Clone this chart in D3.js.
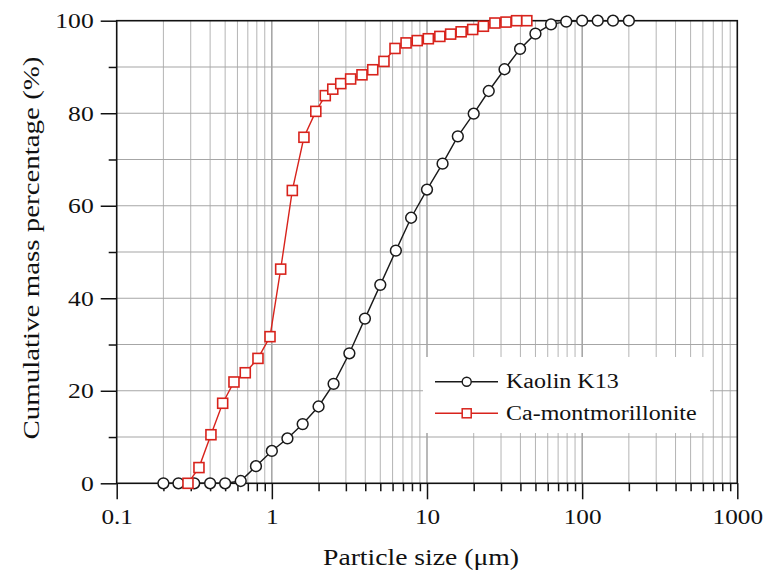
<!DOCTYPE html>
<html>
<head>
<meta charset="utf-8">
<script src="https://cdn.jsdelivr.net/npm/d3@7"></script>
<style>
  html, body { margin: 0; padding: 0; background: #fff; }
  svg { display: block; }
  text { font-family: "Liberation Serif", "Times New Roman", serif; fill: #111; }
</style>
</head>
<body>
<svg id="chart" width="768" height="572"></svg>
<script>
// ---- data ----
const kaolinSize = [0.2, 0.25, 0.316, 0.4, 0.5, 0.63, 0.79, 1.0, 1.26, 1.58, 2.0, 2.5, 3.16, 3.98, 5.0, 6.3, 7.9, 10, 12.6, 15.8, 20, 25, 31.6, 39.8, 50, 63, 79, 100, 126, 158, 200];
const kaolinPct  = [0, 0, 0, 0, 0, 0.5, 3.7, 7.0, 9.7, 12.8, 16.6, 21.5, 28.1, 35.6, 42.9, 50.3, 57.4, 63.5, 69.1, 75.0, 79.9, 84.8, 89.5, 93.9, 97.2, 99.2, 99.8, 100, 100, 100, 100];
const montSize = [0.288, 0.339, 0.405, 0.482, 0.570, 0.674, 0.814, 0.973, 1.14, 1.355, 1.61, 1.92, 2.21, 2.47, 2.78, 3.22, 3.81, 4.47, 5.28, 6.22, 7.33, 8.65, 10.2, 12.1, 14.2, 16.6, 19.7, 23.1, 27.4, 32.3, 37.8, 44.0];
const montPct  = [0, 3.4, 10.5, 17.3, 21.9, 23.9, 27.0, 31.7, 46.3, 63.3, 74.8, 80.4, 83.8, 85.2, 86.4, 87.4, 88.3, 89.4, 91.2, 94.0, 95.2, 95.7, 96.1, 96.6, 97.1, 97.6, 98.1, 98.8, 99.5, 99.7, 100, 100];
const seriesNames = ["Kaolin K13", "Ca-montmorillonite"];
const xMajorTicks = [0.1, 1, 10, 100, 1000];
const xTickLabels = ["0.1", "1", "10", "100", "1000"];
const yMajorTicks = [0, 20, 40, 60, 80, 100];
const yMinorTicks = [10, 30, 50, 70, 90];
const xLabel = "Particle size (\u03bcm)";
const yLabel = "Cumulative mass percentage (%)";

// ---- layout ----
const L = 116.7, R = 737.3, T = 20.7, B = 483.3;
const svg = d3.select("#chart");
const x = d3.scaleLog().domain([0.1, 1000]).range([L, R]);
const y = d3.scaleLinear().domain([0, 100]).range([B, T]);
const FONT = '"Liberation Serif", "Times New Roman", serif';

const xMinor = [];
for (let d = 0.1; d < 1000; d *= 10) for (let k = 2; k <= 9; k++) xMinor.push(+(d * k).toPrecision(3));

function stretch(sel, f) {
  sel.each(function () {
    const w = this.getComputedTextLength();
    this.setAttribute("textLength", w * f);
    this.setAttribute("lengthAdjust", "spacingAndGlyphs");
  });
}

// grid
const grid = svg.append("g");
grid.selectAll("line.vmin").data(xMinor).join("line")
  .attr("x1", d => x(d)).attr("x2", d => x(d)).attr("y1", T).attr("y2", B)
  .attr("stroke", "#b4b4b4").attr("stroke-width", 1);
grid.selectAll("line.vmaj").data([1, 10, 100]).join("line")
  .attr("x1", d => x(d)).attr("x2", d => x(d)).attr("y1", T).attr("y2", B)
  .attr("stroke", "#8a8a8a").attr("stroke-width", 1.2);
grid.selectAll("line.h").data([10, 20, 30, 40, 50, 60, 70, 80, 90]).join("line")
  .attr("x1", L).attr("x2", R).attr("y1", d => y(d)).attr("y2", d => y(d))
  .attr("stroke", "#a6a6a6").attr("stroke-width", 1.1);

// axes
const xAxisMaj = d3.axisBottom(x).tickValues(xMajorTicks).tickSize(16).tickSizeOuter(0)
  .tickFormat((d, i) => xTickLabels[i]);
const gx = svg.append("g").attr("transform", `translate(0,${B})`).call(xAxisMaj);
gx.select(".domain").remove();
gx.selectAll(".tick line").attr("stroke", "#111").attr("stroke-width", 1.5);
gx.selectAll(".tick text").attr("font-size", 21).attr("y", 0).attr("dy", 0)
  .attr("transform", "translate(0,41)").attr("font-family", FONT).attr("fill", "#111");
stretch(gx.selectAll(".tick text"), 1.2);
const gxm = svg.append("g").attr("transform", `translate(0,${B})`)
  .call(d3.axisBottom(x).tickValues(xMinor).tickSize(8).tickSizeOuter(0).tickFormat(""));
gxm.select(".domain").remove();
gxm.selectAll(".tick line").attr("stroke", "#111").attr("stroke-width", 1.5);

const gy = svg.append("g").attr("transform", `translate(${L},0)`)
  .call(d3.axisLeft(y).tickValues(yMajorTicks).tickSize(16).tickSizeOuter(0).tickFormat(d3.format("d")));
gy.select(".domain").remove();
gy.selectAll(".tick line").attr("stroke", "#111").attr("stroke-width", 1.5);
gy.selectAll(".tick text").attr("font-size", 21).attr("x", -23).attr("dy", 7)
  .attr("font-family", FONT).attr("fill", "#111");
stretch(gy.selectAll(".tick text"), 1.22);
const gym = svg.append("g").attr("transform", `translate(${L},0)`)
  .call(d3.axisLeft(y).tickValues(yMinorTicks).tickSize(8).tickSizeOuter(0).tickFormat(""));
gym.select(".domain").remove();
gym.selectAll(".tick line").attr("stroke", "#111").attr("stroke-width", 1.5);

// frame
svg.append("rect").attr("x", L).attr("y", T).attr("width", R - L).attr("height", B - T)
  .attr("fill", "none").attr("stroke", "#111").attr("stroke-width", 1.6);

// axis titles
const xt = svg.append("text").attr("x", 421).attr("y", 565).attr("text-anchor", "middle")
  .attr("font-size", 23).attr("font-family", FONT).text(xLabel);
xt.attr("textLength", 196).attr("lengthAdjust", "spacingAndGlyphs");
const yt = svg.append("text").attr("transform", "translate(39,248) rotate(-90)")
  .attr("text-anchor", "middle").attr("font-size", 24).attr("font-family", FONT).text(yLabel);
yt.attr("textLength", 383).attr("lengthAdjust", "spacingAndGlyphs");

// series
const line = d3.line().x(d => x(d[0])).y(d => y(d[1]));
const kData = kaolinSize.map((s, i) => [s, kaolinPct[i]]);
const mData = montSize.map((s, i) => [s, montPct[i]]);
const black = "#1a1a1a", red = "#d8231c";

svg.append("path").datum(kData).attr("d", line).attr("fill", "none")
  .attr("stroke", black).attr("stroke-width", 1.4);
svg.append("g").selectAll("circle").data(kData).join("circle")
  .attr("cx", d => x(d[0])).attr("cy", d => y(d[1])).attr("r", 5.4)
  .attr("fill", "#fff").attr("stroke", black).attr("stroke-width", 1.5);

svg.append("path").datum(mData).attr("d", line).attr("fill", "none")
  .attr("stroke", red).attr("stroke-width", 1.4);
const sq = 10;
svg.append("g").selectAll("rect").data(mData).join("rect")
  .attr("x", d => x(d[0]) - sq / 2).attr("y", d => y(d[1]) - sq / 2)
  .attr("width", sq).attr("height", sq)
  .attr("fill", "#fff").attr("stroke", red).attr("stroke-width", 1.6);

// legend
const lg = svg.append("g");
lg.append("rect").attr("x", 423).attr("y", 357).attr("width", 287).attr("height", 76).attr("fill", "#fff");
const rows = [381.7, 413.3];
lg.append("line").attr("x1", 435).attr("x2", 498).attr("y1", rows[0]).attr("y2", rows[0])
  .attr("stroke", black).attr("stroke-width", 1.4);
lg.append("circle").attr("cx", 466.7).attr("cy", rows[0]).attr("r", 4.5)
  .attr("fill", "#fff").attr("stroke", black).attr("stroke-width", 1.4);
lg.append("line").attr("x1", 435).attr("x2", 498).attr("y1", rows[1]).attr("y2", rows[1])
  .attr("stroke", red).attr("stroke-width", 1.4);
lg.append("rect").attr("x", 466.7 - 4.5).attr("y", rows[1] - 4.5).attr("width", 9).attr("height", 9)
  .attr("fill", "#fff").attr("stroke", red).attr("stroke-width", 1.5);
const lt = lg.selectAll("text.lg").data(seriesNames).join("text")
  .attr("x", 506).attr("y", (d, i) => rows[i] + 6.5).attr("font-size", 20)
  .attr("font-family", FONT).text(d => d);
stretch(lt, 1.2);
</script>
</body>
</html>
